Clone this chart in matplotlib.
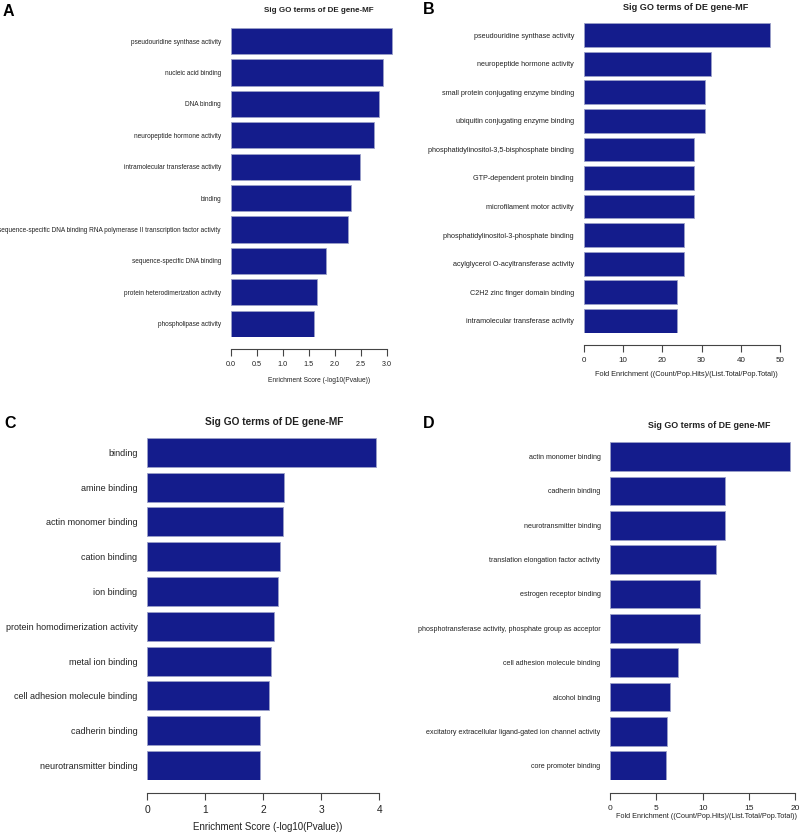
import matplotlib
matplotlib.use("Agg")
import matplotlib.pyplot as plt
import numpy as np

plt.rcParams['font.family'] = ['Liberation Sans', 'DejaVu Sans']

# Panel A
terms_a = ["pseudouridine synthase activity", "nucleic acid binding", "DNA binding",
           "neuropeptide hormone activity", "intramolecular transferase activity", "binding",
           "sequence-specific DNA binding RNA polymerase II transcription factor activity",
           "sequence-specific DNA binding", "protein heterodimerization activity",
           "phospholipase activity"]
score_a = [3.10, 2.92, 2.85, 2.76, 2.49, 2.31, 2.26, 1.83, 1.65, 1.61]
ticks_a = [0.0, 0.5, 1.0, 1.5, 2.0, 2.5, 3.0]
ticklabels_a = ["0.0", "0.5", "1.0", "1.5", "2.0", "2.5", "3.0"]

# Panel B
terms_b = ["pseudouridine synthase activity", "neuropeptide hormone activity",
           "small protein conjugating enzyme binding", "ubiquitin conjugating enzyme binding",
           "phosphatidylinositol-3,5-bisphosphate binding", "GTP-dependent protein binding",
           "microfilament motor activity", "phosphatidylinositol-3-phosphate binding",
           "acylglycerol O-acyltransferase activity", "C2H2 zinc finger domain binding",
           "intramolecular transferase activity"]
fold_b = [47.4, 32.5, 30.9, 30.9, 28.1, 28.1, 28.1, 25.6, 25.6, 23.7, 23.7]
ticks_b = [0, 10, 20, 30, 40, 50]

# Panel C
terms_c = ["binding", "amine binding", "actin monomer binding", "cation binding", "ion binding",
           "protein homodimerization activity", "metal ion binding",
           "cell adhesion molecule binding", "cadherin binding", "neurotransmitter binding"]
score_c = [3.95, 2.36, 2.34, 2.28, 2.25, 2.19, 2.13, 2.09, 1.95, 1.95]
ticks_c = [0, 1, 2, 3, 4]

# Panel D
terms_d = ["actin monomer binding", "cadherin binding", "neurotransmitter binding",
           "translation elongation factor activity", "estrogen receptor binding",
           "phosphotransferase activity, phosphate group as acceptor",
           "cell adhesion molecule binding", "alcohol binding",
           "excitatory extracellular ligand-gated ion channel activity", "core promoter binding"]
fold_d = [19.5, 12.4, 12.4, 11.4, 9.75, 9.75, 7.33, 6.52, 6.1, 6.0]
ticks_d = [0, 5, 10, 15, 20]

title = "Sig GO terms of DE gene-MF"
xlab_score = "Enrichment Score (-log10(Pvalue))"
xlab_fold = "Fold Enrichment ((Count/Pop.Hits)/(List.Total/Pop.Total))"

W, H = 800, 834
fig = plt.figure(figsize=(W / 100, H / 100), dpi=100)

bar_color = "#141c8c"
edge_color = "#9aa0c8"


def panel(left, top, bottom, pxunit, xmax, terms, vals, ticks, ticklabels,
          fs_lab, fs_tick, out_px, xlab, fs_xlab, xlab_x, xlab_y, tick_y,
          title_x, title_y, fs_title, letter, letter_x, letter_y):
    n = len(terms)
    width_px = xmax * pxunit
    ax = fig.add_axes([left / W, 1 - bottom / H, width_px / W, (bottom - top) / H])
    y = np.arange(n)
    ax.barh(y, vals, height=0.833, color=bar_color, edgecolor=edge_color, linewidth=0.6)
    ax.set_xlim(0, xmax)
    ax.set_ylim(n - 1 + 0.4165, -0.4165)
    ax.set_yticks(y)
    ax.set_yticklabels(terms, fontsize=fs_lab, color="#222222")
    ax.tick_params(axis="y", length=0, pad=7)
    for s in ["top", "right", "left"]:
        ax.spines[s].set_visible(False)
    ax.spines["bottom"].set_position(("outward", out_px * 0.72))
    ax.spines["bottom"].set_bounds(ticks[0], ticks[-1])
    ax.spines["bottom"].set_color("#444444")
    ax.set_xticks(ticks)
    ax.set_xticklabels([])
    ax.tick_params(axis="x", length=5, color="#444444")
    for t, lab in zip(ticks, ticklabels):
        fig.text((left + t * pxunit) / W, 1 - tick_y / H, lab, fontsize=fs_tick,
                 ha="center", va="center", color="#222222")
    fig.text(xlab_x / W, 1 - xlab_y / H, xlab, fontsize=fs_xlab,
             ha="center", va="center", color="#222222")
    fig.text(title_x / W, 1 - title_y / H, title, fontsize=fs_title, ha="center",
             va="center", fontweight="bold", color="#222222")
    fig.text(letter_x / W, 1 - letter_y / H, letter, fontsize=11.5, ha="left", va="center",
             fontweight="bold", color="black")
    return ax


panel(230.7, 28, 336.7, 52.0, 3.2, terms_a, score_a, ticks_a, ticklabels_a,
      4.7, 5.2, 12.3, xlab_score, 4.8, 319.5, 380, 365, 318.8, 10, 5.8, "A", 3, 11)

panel(583.7, 23.3, 332.7, 3.93, 50, terms_b, fold_b, ticks_b, [str(t) for t in ticks_b],
      5.25, 5.8, 12.3, xlab_fold, 5.35, 686, 375, 361, 685.3, 7, 6.6, "B", 423, 10)

panel(147.3, 437.7, 780, 58.0, 4.0, terms_c, score_c, ticks_c, [str(t) for t in ticks_c],
      6.5, 7.4, 13.3, xlab_score, 7.0, 268, 826.7, 810, 274, 422, 7.3, "C", 4, 424)

panel(610.3, 442.3, 780, 9.23, 20, terms_d, fold_d, ticks_d, [str(t) for t in ticks_d],
      5.13, 6.0, 13.3, xlab_fold, 5.2, 707, 816.7, 808, 709, 425.7, 6.4, "D", 423, 424)

fig.savefig("out.png", dpi=100)
